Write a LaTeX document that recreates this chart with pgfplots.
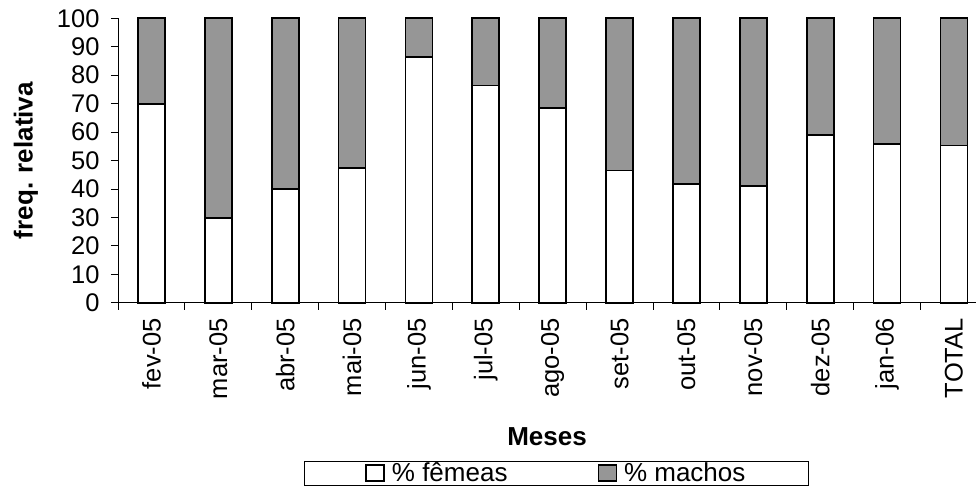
\documentclass[border=0pt]{standalone}
\usepackage{fontspec}
\setmainfont{Liberation Sans}
\usepackage{pgfplots}
\pgfplotsset{compat=1.18}
\definecolor{machos}{RGB}{150,150,150}
\begin{document}
\begin{tikzpicture}[x=1pt,y=1pt]
\begin{axis}[
  at={(0,0)}, anchor=south west,
  scale only axis, width=858pt, height=284.4pt,
  xmin=-0.5, xmax=12.33, ymin=0, ymax=100,
  clip=false,
  ybar stacked, bar width=27pt,
  axis x line*=bottom, axis y line*=left,
  axis line style={line width=0.8pt, -},
  ytick={0,10,...,100},
  xtick={0,...,12},
  xticklabels={fev-05,mar-05,abr-05,mai-05,jun-05,jul-05,ago-05,set-05,out-05,nov-05,dez-05,jan-06,TOTAL},
  xtick style={draw=none},
  extra x ticks={-0.5,0.5,...,11.5},
  extra x tick labels={},
  extra x tick style={xtick style={draw=black, line width=0.8pt}},
  major tick length=7pt,
  tick align=outside,
  ytick style={line width=0.8pt, black},
  /pgf/number format/assume math mode=true,
  tick label style={font=\fontsize{25.5}{25.5}\selectfont},
  x tick label style={rotate=90, anchor=east},
  xticklabel shift=5pt,
  y tick label style={xshift=-8pt},
  ylabel={\textbf{freq. relativa}},
  ylabel style={at={(axis description cs:-0.1072,0.5)}, anchor=center, font=\fontsize{26}{26}\selectfont},
  xlabel={\textbf{Meses}},
  xlabel style={at={(axis description cs:0.5,0)}, yshift=-134.3pt, anchor=center, font=\fontsize{26}{26}\selectfont},
  legend style={at={(axis description cs:0.511,-0.555)}, anchor=north, draw=black, line width=0.8pt,
    font=\fontsize{26}{26}\selectfont, inner xsep=61pt, inner ysep=0pt,
    /tikz/every odd column/.append style={column sep=5pt},
    /tikz/every even column/.append style={column sep=88pt}},
  legend columns=2,
  legend cell align=left,
  legend image code/.code={\draw[#1,line width=1.5pt,draw=black] (0pt,-8pt) rectangle (18pt,8pt);},
]
\addplot[fill=white, draw=black, line width=1.8pt] coordinates {
 (0,70.0) (1,29.8) (2,40.0) (3,47.3) (4,86.4) (5,76.4) (6,68.5) (7,46.5) (8,41.6) (9,41.0) (10,59.1) (11,55.8) (12,55.3)};
\addplot[fill=machos, draw=black, line width=1.8pt] coordinates {
 (0,30.0) (1,70.2) (2,60.0) (3,52.7) (4,13.6) (5,23.6) (6,31.5) (7,53.5) (8,58.4) (9,59.0) (10,40.9) (11,44.2) (12,44.7)};
\legend{\% fêmeas, \% machos}
\end{axis}
\pgfresetboundingbox
\path[use as bounding box] (-118,-187.3) rectangle (858,302.7);
\end{tikzpicture}
\end{document}
